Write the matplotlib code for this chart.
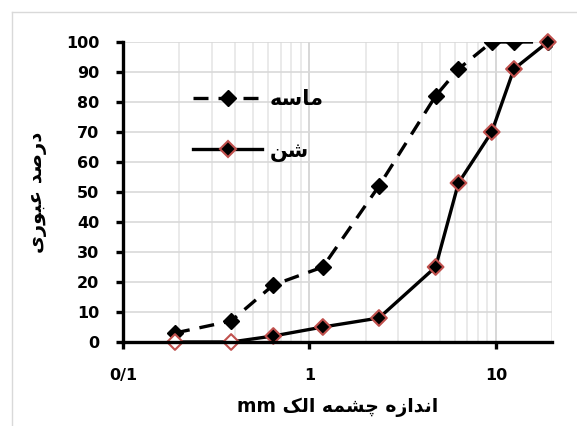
import numpy as np
import matplotlib
matplotlib.use('Agg')
import matplotlib.pyplot as plt
from matplotlib.lines import Line2D

# Sieve sizes (mm) and percent passing
sieve_mm = [0.19, 0.38, 0.64, 1.18, 2.36, 4.75, 6.3, 9.5, 12.5, 19.0]
sand_pass = [3, 7, 19, 25, 52, 82, 91, 100, 100, 100]
gravel_pass = [0, 0, 2, 5, 8, 25, 53, 70, 91, 100]

y_ticks = [0, 10, 20, 30, 40, 50, 60, 70, 80, 90, 100]
x_ticks = [0.1, 1, 10]
x_tick_labels = ['0/1', '1', '10']

sand_label = 'ماسه'
gravel_label = 'شن'
y_label = 'درصد عبوری'
x_label = 'اندازه چشمه الک'

# Arabic presentation forms: (isolated, final, initial, medial)
FORMS = {
    'ا': ('\uFE8D', '\uFE8E', None, None),
    'ب': ('\uFE8F', '\uFE90', '\uFE91', '\uFE92'),
    'د': ('\uFEA9', '\uFEAA', None, None),
    'ر': ('\uFEAD', '\uFEAE', None, None),
    'ز': ('\uFEAF', '\uFEB0', None, None),
    'س': ('\uFEB1', '\uFEB2', '\uFEB3', '\uFEB4'),
    'ش': ('\uFEB5', '\uFEB6', '\uFEB7', '\uFEB8'),
    'ص': ('\uFEB9', '\uFEBA', '\uFEBB', '\uFEBC'),
    'ع': ('\uFEC9', '\uFECA', '\uFECB', '\uFECC'),
    'ل': ('\uFEDD', '\uFEDE', '\uFEDF', '\uFEE0'),
    'م': ('\uFEE1', '\uFEE2', '\uFEE3', '\uFEE4'),
    'ن': ('\uFEE5', '\uFEE6', '\uFEE7', '\uFEE8'),
    'ه': ('\uFEE9', '\uFEEA', '\uFEEB', '\uFEEC'),
    'و': ('\uFEED', '\uFEEE', None, None),
    'ی': ('\uFBFC', '\uFBFD', '\uFBFE', '\uFBFF'),
    'چ': ('\uFB7A', '\uFB7B', '\uFB7C', '\uFB7D'),
    'ک': ('\uFB8E', '\uFB8F', '\uFB90', '\uFB91'),
}


def shape(text):
    """Join Persian letters and return them in visual (left-to-right) order."""
    out = []
    for i, ch in enumerate(text):
        if ch not in FORMS:
            out.append(ch)
            continue
        prev = text[i - 1] if i > 0 else None
        nxt = text[i + 1] if i + 1 < len(text) else None
        join_prev = prev in FORMS and FORMS[prev][2] is not None
        join_next = nxt in FORMS and FORMS[ch][2] is not None
        iso, fin, ini, med = FORMS[ch]
        if join_prev and join_next:
            out.append(med)
        elif join_prev:
            out.append(fin)
        elif join_next:
            out.append(ini)
        else:
            out.append(iso)
    return ''.join(reversed(out))


plt.rcParams['font.family'] = ['DejaVu Sans']
plt.rcParams['font.weight'] = 'bold'

fig = plt.figure(figsize=(5.77, 4.26), dpi=100)
ax = fig.add_axes([123 / 577, 1 - 342 / 426, (552 - 123) / 577, (342 - 42) / 426])

ax.set_xscale('log')
ax.set_xlim(0.1, 20)
ax.set_ylim(0, 100)

ax.grid(True, which='major', axis='x', color='#d4d4d4', linewidth=1.3)
ax.grid(True, which='minor', axis='x', color='#e4e4e4', linewidth=1.1)
ax.grid(True, which='major', axis='y', color='#d9d9d9', linewidth=1.2)
ax.set_axisbelow(True)

dash = (0, (4.5, 3.0))
ax.plot(sieve_mm, sand_pass, color='black', linewidth=2.4, linestyle=dash,
        marker='D', markersize=8, markerfacecolor='black', markeredgecolor='black', zorder=3)
ax.plot(sieve_mm, gravel_pass, color='black', linewidth=2.4, linestyle='-', zorder=3)
face = ['white' if v == 0 else 'black' for v in gravel_pass]
ax.scatter(sieve_mm, gravel_pass, marker='D', s=64, facecolors=face,
           edgecolors='#c0504d', linewidths=1.5, zorder=4, clip_on=False)

for side in ['top', 'right']:
    ax.spines[side].set_visible(False)
for side in ['left', 'bottom']:
    ax.spines[side].set_linewidth(2.4)
    ax.spines[side].set_zorder(5)

ax.set_xticks(x_ticks)
ax.set_xticklabels(x_tick_labels)
ax.xaxis.set_minor_locator(matplotlib.ticker.LogLocator(subs=np.arange(2, 10)))
ax.xaxis.set_minor_formatter(matplotlib.ticker.NullFormatter())
ax.tick_params(axis='x', which='minor', length=0)
ax.set_yticks(y_ticks)
ax.tick_params(axis='both', which='major', length=5, width=2.4, labelsize=11.5)
ax.tick_params(axis='x', which='major', pad=14)
ax.tick_params(axis='y', which='major', pad=12)

ax.set_ylabel(shape(y_label), fontsize=14, fontweight='bold', labelpad=14)
ax.set_xlabel('mm ' + shape(x_label), fontsize=13.5, fontweight='bold', labelpad=10)

handles = [
    Line2D([], [], color='black', linewidth=2.4, linestyle=dash,
           marker='D', markersize=8, markerfacecolor='black', markeredgecolor='black'),
    Line2D([], [], color='black', linewidth=2.4, linestyle='-',
           marker='D', markersize=8, markerfacecolor='black', markeredgecolor='#c0504d',
           markeredgewidth=1.5),
]
ax.legend(handles, [shape(sand_label), shape(gravel_label)], loc='upper left',
          bbox_to_anchor=(0.12, 0.905), frameon=False, handlelength=3.3,
          handletextpad=0.35, labelspacing=1.5, prop={'size': 15, 'weight': 'bold'})

# Light border of the chart area
fig.add_artist(Line2D([12 / 577, 1], [1 - 12 / 426, 1 - 12 / 426], color='#d9d9d9', linewidth=1))
fig.add_artist(Line2D([12 / 577, 12 / 577], [0, 1 - 12 / 426], color='#d9d9d9', linewidth=1))

fig.savefig('out.png', dpi=100)
